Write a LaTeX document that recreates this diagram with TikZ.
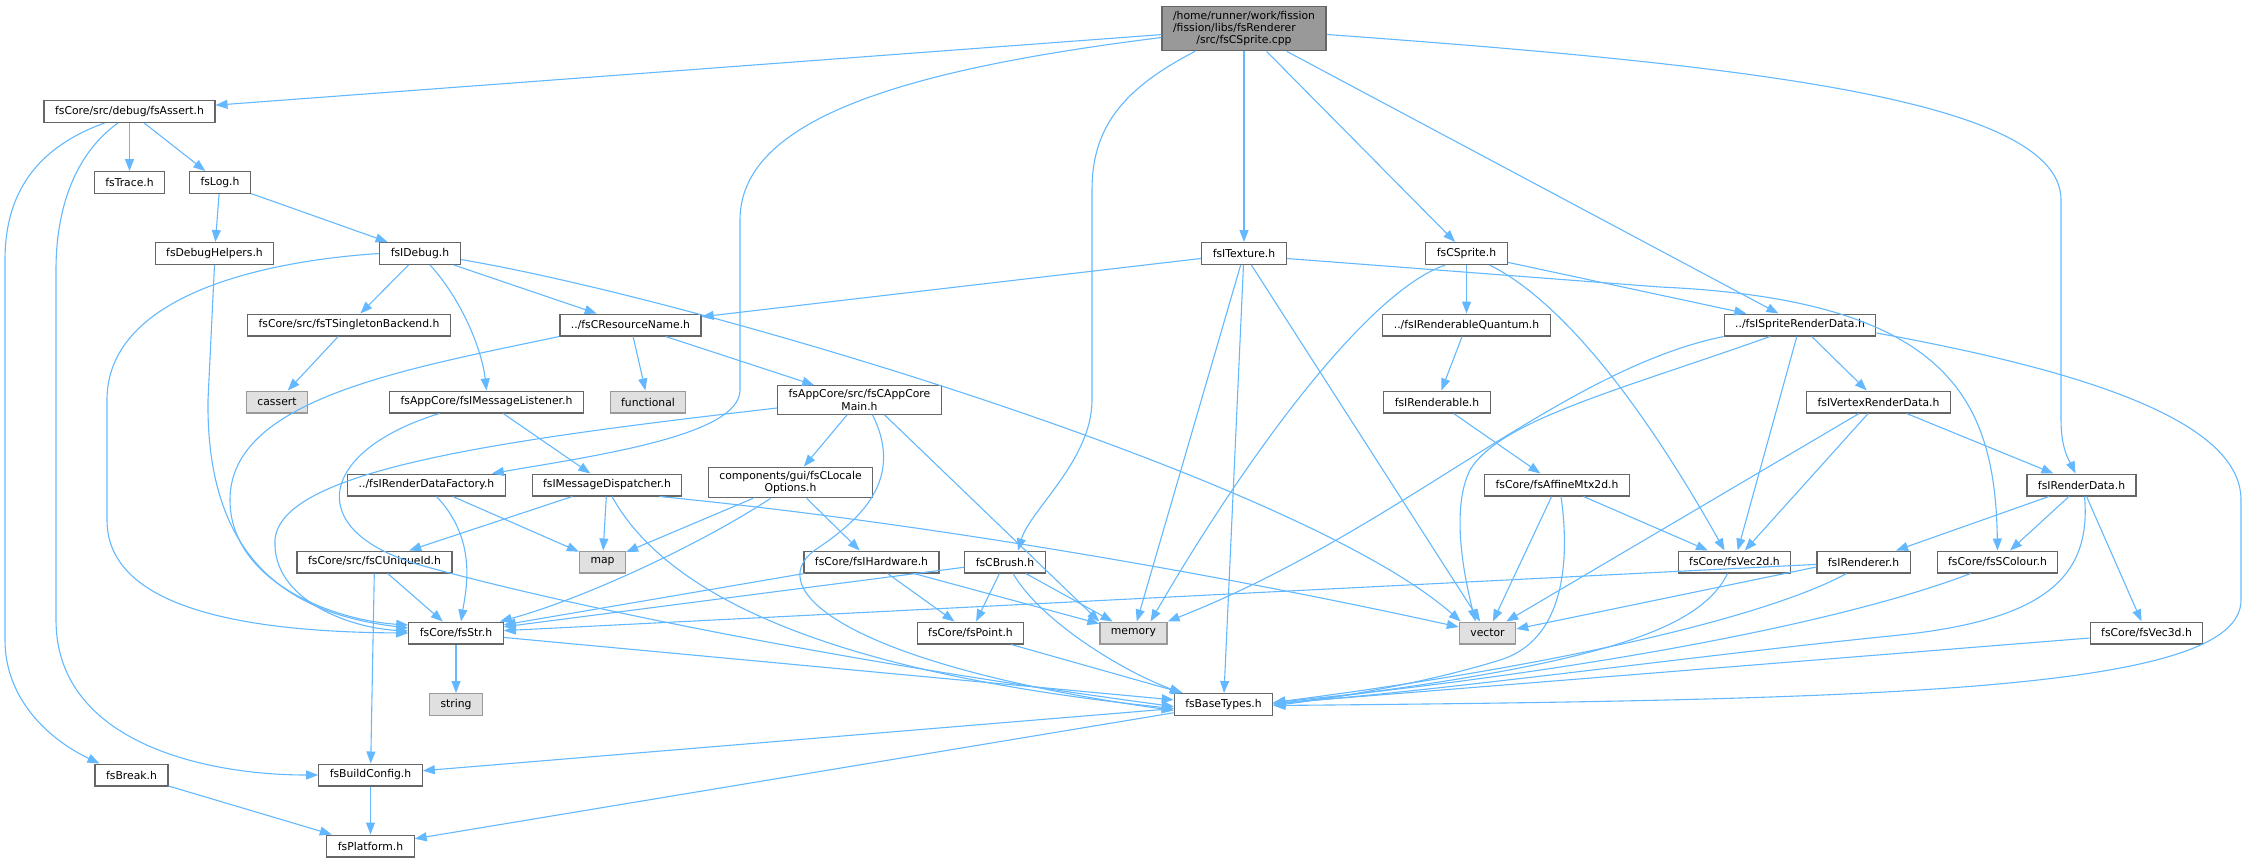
\documentclass[tikz,border=0pt]{standalone}
\usepackage{fontspec}
\setmainfont{DejaVu Sans}
\usetikzlibrary{arrows.meta,positioning}

\definecolor{edgeblue}{HTML}{63B8FF}
\definecolor{boxgrey}{HTML}{666666}
\definecolor{sysgrey}{HTML}{999999}
\definecolor{sysfill}{HTML}{E0E0E0}
\definecolor{rootfill}{HTML}{999999}

\tikzset{
  hdr/.style={draw=boxgrey, fill=white, line width=1.2pt, minimum height=21.8pt,
    inner xsep=11pt, inner ysep=1pt, font=\fontsize{10.8}{12.1}\selectfont},
  sys/.style={hdr, draw=sysgrey, fill=sysfill},
  dep/.style={->, draw=edgeblue, line width=1.1pt},
}

\begin{document}
\begin{tikzpicture}
        [x=1pt,y=-1pt,>={Triangle[length=12pt,width=9pt]}]

        \useasboundingbox (0,0) rectangle (2248,859);

        % files
        \node[hdr, fill=rootfill, align=left, inner ysep=5pt] (root) at (1244,28.5)
            {/home/runner/work/fission\\/fission/libs/fsRenderer\\\hspace*{\fill}/src/fsCSprite.cpp\hspace*{\fill}};
        \node[hdr] (assert) at (129.5,111.5) {fsCore/src/debug/fsAssert.h};
        \node[hdr] (trace) at (129.5,182.5) {fsTrace.h};
        \node[hdr] (log) at (220,182.5) {fsLog.h};
        \node[hdr] (dbghelp) at (214.5,253.5) {fsDebugHelpers.h};
        \node[hdr] (idebug) at (420,253.5) {fsIDebug.h};
        \node[hdr] (itexture) at (1244,253.5) {fsITexture.h};
        \node[hdr] (csprite) at (1466.5,253.5) {fsCSprite.h};
        \node[hdr] (singleton) at (349,325) {fsCore/src/fsTSingletonBackend.h};
        \node[hdr] (resname) at (630.5,325) {../fsCResourceName.h};
        \node[hdr] (quantum) at (1466.5,325) {../fsIRenderableQuantum.h};
        \node[hdr] (spritedata) at (1800,325) {../fsISpriteRenderData.h};
        \node[hdr] (msglistener) at (486.5,402) {fsAppCore/fsIMessageListener.h};
        \node[hdr, align=left, inner ysep=4pt] (appcore) at (859.5,400)
            {fsAppCore/src/fsCAppCore\\\hspace*{\fill}Main.h\hspace*{\fill}};
        \node[hdr] (renderable) at (1437,402) {fsIRenderable.h};
        \node[hdr] (vertexdata) at (1878.5,402) {fsIVertexRenderData.h};
        \node[hdr] (datafactory) at (426.5,485) {../fsIRenderDataFactory.h};
        \node[hdr] (msgdispatch) at (607,485) {fsIMessageDispatcher.h};
        \node[hdr, align=left, inner ysep=4pt] (locale) at (790.5,482.5)
            {components/gui/fsCLocale\\\hspace*{\fill}Options.h\hspace*{\fill}};
        \node[hdr] (affine) at (1557,485) {fsCore/fsAffineMtx2d.h};
        \node[hdr] (renderdata) at (2081.5,485) {fsIRenderData.h};
        \node[hdr] (uniqueid) at (374.5,562) {fsCore/src/fsCUniqueId.h};
        \node[hdr] (hardware) at (871.5,562) {fsCore/fsIHardware.h};
        \node[hdr] (brush) at (1005,562) {fsCBrush.h};
        \node[hdr] (vec2d) at (1734.5,562) {fsCore/fsVec2d.h};
        \node[hdr] (renderer) at (1863.5,562) {fsIRenderer.h};
        \node[hdr] (colour) at (1997.5,562) {fsCore/fsSColour.h};
        \node[hdr] (str) at (456,633) {fsCore/fsStr.h};
        \node[hdr] (point) at (970.5,633) {fsCore/fsPoint.h};
        \node[hdr] (vec3d) at (2146.5,633) {fsCore/fsVec3d.h};
        \node[hdr] (basetypes) at (1223.5,704.5) {fsBaseTypes.h};
        \node[hdr] (fsbreak) at (131.5,775) {fsBreak.h};
        \node[hdr] (buildconfig) at (370.5,775) {fsBuildConfig.h};
        \node[hdr] (platform) at (370.5,846) {fsPlatform.h};

        % system headers
        \node[sys] (cassert) at (277,402) {cassert};
        \node[sys] (functional) at (648,402) {functional};
        \node[sys] (map) at (602.5,562) {map};
        \node[sys] (memory) at (1133.5,633) {memory};
        \node[sys] (vector) at (1487.5,633) {vector};
        \node[sys] (string) at (456,704.5) {string};

        % includes
        \draw[dep] (root) -- (assert);
        \draw[dep] ([yshift=-9pt]root.west) .. controls (900,70) and (740,120) .. (740,220) -- (740,390)
            .. controls (740,435) and (600,455) .. ([xshift=-14pt]datafactory.north east);
        \draw[dep] ([xshift=-49pt]root.south) .. controls (1120,90) and (1092,130) .. (1092,190) -- (1092,400)
            .. controls (1092,460) and (1030,510) .. ([xshift=13pt]brush.north);
        \draw[dep] (root) -- (itexture);
        \draw[dep] (root) -- (csprite);
        \draw[dep] (root) -- (spritedata);
        \draw[dep] ([yshift=-6pt]root.east) .. controls (1750,65) and (2061,100) .. (2061,200) -- (2061,420)
            .. controls (2061,450) and (2070,462) .. ([xshift=-6pt]renderdata.north);

        \draw[dep] (assert) -- (trace);
        \draw[dep] (assert) -- (log);
        \draw[dep] ([xshift=-25pt]assert.south) .. controls (30,150) and (5,200) .. (5,260) -- (5,640)
            .. controls (5,700) and (50,740) .. ([xshift=5pt]fsbreak.north west);
        \draw[dep] ([xshift=-11.5pt]assert.south) .. controls (80,150) and (56,200) .. (56,270) -- (56,620)
            .. controls (56,740) and (200,775) .. (buildconfig.west);

        \draw[dep] (log) -- (dbghelp);
        \draw[dep] (log) -- (idebug);

        \draw[dep] (dbghelp.south) -- (208,400) .. controls (206,570) and (300,615) .. ([yshift=5pt]str.west);

        \draw[dep] (idebug.west) .. controls (250,262) and (107,300) .. (107,400) -- (107,520)
            .. controls (107,610) and (250,632) .. (str.west);
        \draw[dep] (idebug) -- (singleton);
        \draw[dep] ([xshift=10pt]idebug.south) .. controls (462,300) and (482,350) .. (msglistener.north);
        \draw[dep] (idebug) -- (resname);
        \draw[dep] ([yshift=-6pt]idebug.east) .. controls (700,300) and (1300,480) .. ([xshift=2pt]vector.north west);

        \draw[dep] (singleton) -- (cassert);

        \draw[dep] (resname.south west) .. controls (400,370) and (230,400) .. (230,500)
            .. controls (230,580) and (330,620) .. ([yshift=8pt]str.west);
        \draw[dep] (resname) -- (functional);
        \draw[dep] (resname) -- (appcore);

        \draw[dep] (quantum) -- (renderable);
        \draw[dep] (renderable) -- (affine);

        \draw[dep] (spritedata.south west) .. controls (1560,370) and (1400,530) .. (memory.north east);
        \draw[dep] ([xshift=-30pt]spritedata.south) .. controls (1620,390) and (1500,420) .. (1470,470)
            .. controls (1450,510) and (1465,580) .. ([xshift=-12pt]vector.north);
        \draw[dep] (spritedata) -- (vec2d);
        \draw[dep] (spritedata) -- (vertexdata);
        \draw[dep] ([yshift=-8pt]spritedata.east) .. controls (2080,370) and (2241,420) .. (2241,500) -- (2241,600)
            .. controls (2241,690) and (1900,700) .. ([yshift=-1pt]basetypes.east);

        \draw[dep] (vertexdata) -- ([xshift=-10pt]vector.north east);
        \draw[dep] (vertexdata) -- (vec2d);
        \draw[dep] (vertexdata) -- (renderdata);

        \draw[dep] (affine) -- (vector);
        \draw[dep] ([xshift=4pt]affine.south) .. controls (1570,560) and (1565,640) .. (1500,660)
            .. controls (1420,685) and (1320,700) .. ([yshift=-1pt]basetypes.east);
        \draw[dep] (affine) -- (vec2d);

        \draw[dep] (renderdata) -- (renderer);
        \draw[dep] (renderdata) -- (colour);
        \draw[dep] ([xshift=3pt]renderdata.south) .. controls (2092,580) and (2040,620) .. (1900,635)
            .. controls (1700,655) and (1450,690) .. ([yshift=1pt]basetypes.east);
        \draw[dep] (renderdata) -- (vec3d);

        \draw[dep] ([xshift=-7pt]vec2d.south) .. controls (1700,630) and (1600,665) .. (basetypes.east);

        \draw[dep] (renderer) -- (str);
        \draw[dep] ([yshift=-5pt]renderer.west) -- ([yshift=4pt]vector.east);
        \draw[dep] ([xshift=-17pt]renderer.south) .. controls (1780,610) and (1600,660) .. ([yshift=2pt]basetypes.east);

        \draw[dep] ([xshift=-27pt]colour.south) .. controls (1850,620) and (1600,670) .. ([yshift=2pt]basetypes.east);

        \draw[dep] ([yshift=-5pt]vec3d.west) -- ([yshift=1pt]basetypes.east);

        \draw[dep] (itexture) -- (resname);
        \draw[dep] (itexture) -- (memory);
        \draw[dep] (itexture) -- (basetypes);
        \draw[dep] (itexture) -- (vector);
        \draw[dep] ([yshift=-5pt]itexture.east) -- (1660,287) .. controls (1950,300) and (1995,400) .. (colour.north);

        \draw[dep] (csprite) -- (quantum);
        \draw[dep] ([xshift=-21pt]csprite.south) .. controls (1370,290) and (1250,450) .. ([xshift=17pt]memory.north);
        \draw[dep] ([xshift=23pt]csprite.south) .. controls (1560,300) and (1640,400) .. ([xshift=-10pt]vec2d.north);
        \draw[dep] (csprite) -- (spritedata);

        \draw[dep] (msglistener) -- (msgdispatch);
        \draw[dep] ([xshift=-47pt]msglistener.south) .. controls (320,450) and (300,530) .. (420,565)
            .. controls (600,615) and (900,670) .. ([yshift=-2pt]basetypes.west);

        \draw[dep] (msgdispatch) -- (uniqueid);
        \draw[dep] (msgdispatch) -- (map);
        \draw[dep] ([xshift=5pt]msgdispatch.south) .. controls (680,620) and (900,680) .. ([yshift=-4pt]basetypes.west);
        \draw[dep] ([xshift=-23pt]msgdispatch.south east) .. controls (900,520) and (1200,570) .. ([yshift=6pt]vector.west);

        \draw[dep] (uniqueid) -- (str);
        \draw[dep] (uniqueid) -- (buildconfig);

        \draw[dep] ([xshift=10pt]datafactory.south) .. controls (478,540) and (466,590) .. ([xshift=5pt]str.north);
        \draw[dep] (datafactory) -- (map);

        \draw[dep] (locale) -- (map);
        \draw[dep] ([xshift=-20pt]locale.south) .. controls (700,545) and (580,600) .. ([xshift=-4pt]str.north east);
        \draw[dep] (locale) -- (hardware);

        \draw[dep] (appcore) -- (locale);
        \draw[dep] ([yshift=-8pt]appcore.west) .. controls (500,440) and (280,470) .. (275,540)
            .. controls (272,600) and (350,628) .. ([yshift=2pt]str.west);
        \draw[dep] ([xshift=13pt]appcore.south) .. controls (905,480) and (860,520) .. (815,550)
            .. controls (760,590) and (850,665) .. ([yshift=-6pt]basetypes.west);
        \draw[dep] ([xshift=25pt]appcore.south) -- (memory.north west);

        \draw[dep] (hardware) -- (str);
        \draw[dep] (hardware) -- (point);
        \draw[dep] (hardware) -- (memory);

        \draw[dep] (brush) -- (str);
        \draw[dep] (brush) -- (point);
        \draw[dep] ([xshift=8pt]brush.south) .. controls (1040,620) and (1120,670) .. ([xshift=8pt]basetypes.north west);
        \draw[dep] (brush) -- (memory);

        \draw[dep] (point) -- (basetypes);

        \draw[dep] (str) -- (string);
        \draw[dep] (str) -- (basetypes);

        \draw[dep] (basetypes) -- (buildconfig);
        \draw[dep] (basetypes) -- (platform);
        \draw[dep] (buildconfig) -- (platform);
        \draw[dep] (fsbreak) -- (platform);

    \end{tikzpicture}
\end{document}
